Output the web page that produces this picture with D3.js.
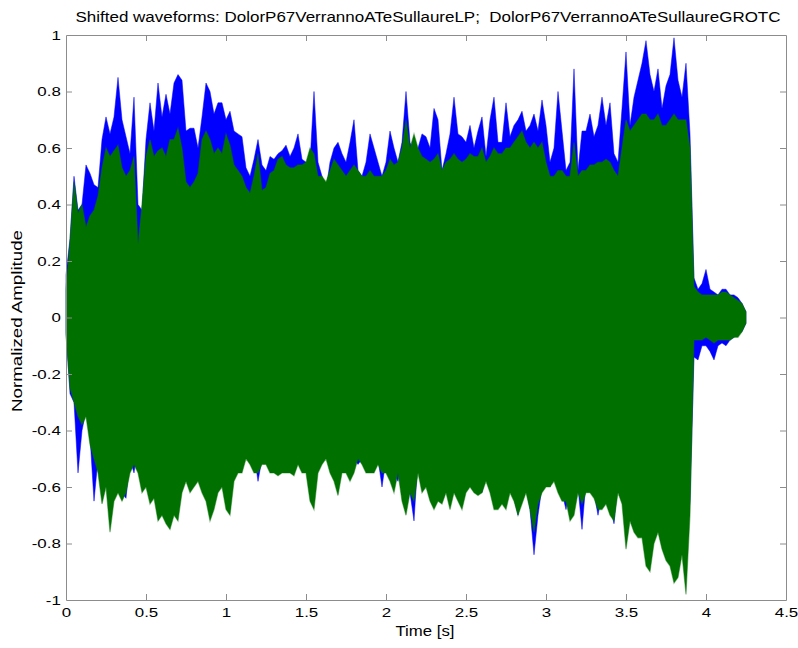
<!DOCTYPE html>
<html><head><meta charset="utf-8">
<script src="https://cdn.jsdelivr.net/npm/d3@7/dist/d3.min.js"></script>
<style>body{margin:0;background:#fff}text{font-family:"Liberation Sans",Arial,Helvetica,sans-serif;fill:#000}</style>
</head><body><svg id="c" width="798" height="648"></svg>
<script>
// sample spacing of the envelope readings (seconds)
const step = 0.025;
const titleText = "Shifted waveforms: DolorP67VerrannoATeSullaureLP;  DolorP67VerrannoATeSullaureGROTC";
const xLabel = "Time [s]";
const yLabel = "Normalized Amplitude";
const xTicks = [0, 0.5, 1, 1.5, 2, 2.5, 3, 3.5, 4, 4.5];
const yTicks = [-1, -0.8, -0.6, -0.4, -0.2, 0, 0.2, 0.4, 0.6, 0.8, 1];

// upper envelope, blue waveform (LP)
const blueHi = [
 0.15,0.28,0.50,0.38,0.40,0.54,0.51,0.47,0.46,0.63,
 0.71,0.65,0.71,0.85,0.70,0.64,0.58,0.78,0.40,0.38,
 0.63,0.76,0.66,0.83,0.71,0.79,0.72,0.83,0.86,0.84,
 0.66,0.67,0.67,0.60,0.71,0.83,0.80,0.72,0.76,0.76,
 0.70,0.73,0.66,0.65,0.64,0.53,0.50,0.56,0.63,0.54,
 0.52,0.57,0.56,0.58,0.59,0.61,0.57,0.60,0.65,0.56,
 0.55,0.55,0.80,0.55,0.50,0.45,0.55,0.60,0.62,0.58,
 0.55,0.62,0.70,0.52,0.50,0.55,0.65,0.60,0.55,0.50,
 0.55,0.66,0.60,0.55,0.62,0.80,0.62,0.58,0.60,0.65,
 0.64,0.60,0.74,0.70,0.52,0.58,0.65,0.78,0.65,0.64,
 0.62,0.68,0.60,0.66,0.71,0.57,0.70,0.78,0.62,0.62,
 0.76,0.64,0.68,0.70,0.73,0.66,0.68,0.72,0.66,0.77,
 0.68,0.55,0.60,0.80,0.66,0.52,0.55,0.88,0.52,0.66,
 0.66,0.72,0.64,0.68,0.78,0.68,0.76,0.58,0.55,0.74,
 0.94,0.68,0.78,0.84,0.90,0.98,0.86,0.80,0.88,0.74,
 0.82,0.86,0.99,0.84,0.78,0.90,0.65,0.14,0.10,0.12,
 0.17,0.10,0.09,0.08,0.10,0.10,0.08,0.08,0.07,0.05,
 0.02
];
// lower envelope, blue waveform (LP)
const blueLo = [
 -0.05,-0.27,-0.30,-0.55,-0.40,-0.33,-0.42,-0.65,-0.50,-0.58,
 -0.57,-0.62,-0.62,-0.58,-0.62,-0.64,-0.50,-0.55,-0.45,-0.55,
 -0.52,-0.55,-0.56,-0.60,-0.62,-0.62,-0.64,-0.65,-0.60,-0.58,
 -0.58,-0.52,-0.55,-0.52,-0.56,-0.60,-0.62,-0.60,-0.58,-0.55,
 -0.60,-0.68,-0.52,-0.52,-0.50,-0.48,-0.45,-0.48,-0.58,-0.50,
 -0.48,-0.50,-0.50,-0.52,-0.50,-0.50,-0.52,-0.52,-0.50,-0.50,
 -0.47,-0.52,-0.55,-0.52,-0.50,-0.48,-0.50,-0.52,-0.55,-0.52,
 -0.52,-0.52,-0.50,-0.52,-0.50,-0.52,-0.52,-0.50,-0.50,-0.60,
 -0.50,-0.55,-0.55,-0.58,-0.50,-0.65,-0.62,-0.72,-0.50,-0.58,
 -0.58,-0.58,-0.62,-0.62,-0.60,-0.60,-0.62,-0.58,-0.60,-0.62,
 -0.60,-0.58,-0.60,-0.62,-0.62,-0.55,-0.60,-0.62,-0.64,-0.62,
 -0.64,-0.60,-0.64,-0.70,-0.62,-0.60,-0.68,-0.84,-0.70,-0.60,
 -0.55,-0.60,-0.55,-0.58,-0.62,-0.68,-0.60,-0.62,-0.60,-0.75,
 -0.58,-0.58,-0.62,-0.70,-0.62,-0.64,-0.66,-0.73,-0.58,-0.60,
 -0.66,-0.72,-0.66,-0.72,-0.70,-0.70,-0.72,-0.70,-0.72,-0.72,
 -0.74,-0.76,-0.78,-0.78,-0.76,-0.78,-0.65,-0.14,-0.15,-0.10,
 -0.10,-0.12,-0.15,-0.10,-0.09,-0.10,-0.08,-0.07,-0.06,-0.05,
 -0.02
];
// upper envelope, green waveform (GROTC)
const greenHi = [
 0.10,0.27,0.48,0.37,0.40,0.32,0.36,0.38,0.43,0.53,
 0.60,0.57,0.59,0.61,0.53,0.50,0.52,0.57,0.26,0.40,
 0.57,0.63,0.57,0.59,0.60,0.57,0.63,0.63,0.67,0.60,
 0.48,0.46,0.48,0.51,0.63,0.66,0.63,0.58,0.60,0.58,
 0.65,0.61,0.54,0.52,0.50,0.46,0.44,0.50,0.58,0.45,
 0.46,0.51,0.52,0.56,0.57,0.54,0.53,0.53,0.54,0.54,
 0.55,0.60,0.58,0.50,0.50,0.48,0.52,0.56,0.54,0.52,
 0.50,0.52,0.54,0.52,0.50,0.50,0.52,0.50,0.50,0.50,
 0.52,0.56,0.54,0.55,0.60,0.70,0.60,0.65,0.60,0.57,
 0.56,0.55,0.56,0.58,0.52,0.55,0.56,0.58,0.56,0.55,
 0.56,0.58,0.57,0.57,0.60,0.55,0.57,0.60,0.58,0.58,
 0.60,0.60,0.62,0.64,0.66,0.62,0.60,0.62,0.60,0.62,
 0.55,0.50,0.50,0.52,0.52,0.50,0.50,0.62,0.50,0.52,
 0.52,0.54,0.54,0.55,0.55,0.56,0.55,0.52,0.50,0.60,
 0.70,0.66,0.68,0.70,0.72,0.72,0.70,0.70,0.72,0.68,
 0.68,0.70,0.72,0.70,0.70,0.70,0.60,0.11,0.09,0.08,
 0.08,0.08,0.08,0.08,0.09,0.09,0.08,0.07,0.06,0.05,
 0.02
];
// lower envelope, green waveform (GROTC)
const greenLo = [
 -0.06,-0.25,-0.30,-0.35,-0.38,-0.35,-0.45,-0.50,-0.55,-0.66,
 -0.60,-0.76,-0.65,-0.62,-0.65,-0.62,-0.55,-0.52,-0.55,-0.62,
 -0.60,-0.66,-0.64,-0.72,-0.70,-0.73,-0.75,-0.70,-0.72,-0.62,
 -0.58,-0.62,-0.60,-0.58,-0.62,-0.65,-0.72,-0.68,-0.62,-0.60,
 -0.68,-0.70,-0.58,-0.55,-0.55,-0.50,-0.52,-0.55,-0.55,-0.52,
 -0.52,-0.55,-0.55,-0.56,-0.55,-0.55,-0.55,-0.56,-0.52,-0.55,
 -0.55,-0.65,-0.68,-0.55,-0.52,-0.50,-0.55,-0.58,-0.63,-0.55,
 -0.55,-0.58,-0.55,-0.50,-0.52,-0.55,-0.55,-0.55,-0.52,-0.55,
 -0.55,-0.58,-0.62,-0.55,-0.65,-0.70,-0.62,-0.65,-0.55,-0.62,
 -0.60,-0.65,-0.68,-0.65,-0.66,-0.62,-0.68,-0.62,-0.65,-0.68,
 -0.62,-0.60,-0.62,-0.63,-0.62,-0.58,-0.62,-0.68,-0.68,-0.66,
 -0.68,-0.62,-0.65,-0.70,-0.66,-0.62,-0.68,-0.76,-0.66,-0.62,
 -0.60,-0.60,-0.58,-0.62,-0.65,-0.65,-0.72,-0.70,-0.62,-0.66,
 -0.62,-0.62,-0.64,-0.68,-0.68,-0.66,-0.70,-0.72,-0.62,-0.66,
 -0.82,-0.72,-0.76,-0.78,-0.78,-0.88,-0.90,-0.80,-0.76,-0.82,
 -0.86,-0.88,-0.94,-0.92,-0.84,-0.98,-0.70,-0.08,-0.08,-0.08,
 -0.07,-0.08,-0.09,-0.08,-0.08,-0.08,-0.08,-0.07,-0.07,-0.05,
 -0.02
];

const svg = d3.select("#c");
const x = d3.scaleLinear().domain([0, 4.5]).range([66, 786]);
const y = d3.scaleLinear().domain([-1, 1]).range([600, 35]);

const toRows = (hi, lo) => hi.map((v, i) => ({ t: i * step, hi: v, lo: lo[i] }));
const area = d3.area().x(d => x(d.t)).y0(d => y(d.lo)).y1(d => y(d.hi));

svg.append("rect").attr("x", 66).attr("y", 35).attr("width", 720).attr("height", 565).attr("fill", "#fff");

const plot = svg.append("g");
plot.append("path").datum(toRows(blueHi, blueLo)).attr("d", area)
  .attr("fill", "#0000ff").attr("stroke", "#0000ff").attr("stroke-opacity", 0.5).attr("stroke-width", 1);
plot.append("path").datum(toRows(greenHi, greenLo)).attr("d", area)
  .attr("fill", "#007000").attr("stroke", "#007000").attr("stroke-opacity", 0.45).attr("stroke-width", 1.2);

// axes (MATLAB style: box with inward ticks on all sides)
const axCol = "#8c8c8c";
const tl = 6;
const fmt = d => String(d);
const gB = svg.append("g").attr("transform", "translate(0,600)")
  .call(d3.axisBottom(x).tickValues(xTicks).tickFormat(fmt).tickSizeInner(-tl).tickSizeOuter(0).tickPadding(8));
const gT = svg.append("g").attr("transform", "translate(0,35)")
  .call(d3.axisTop(x).tickValues(xTicks).tickFormat("").tickSizeInner(-tl).tickSizeOuter(0));
const gL = svg.append("g").attr("transform", "translate(66,0)")
  .call(d3.axisLeft(y).tickValues(yTicks).tickFormat(fmt).tickSizeInner(-tl).tickSizeOuter(0).tickPadding(4));
const gR = svg.append("g").attr("transform", "translate(786,0)")
  .call(d3.axisRight(y).tickValues(yTicks).tickFormat("").tickSizeInner(-tl).tickSizeOuter(0));
[gB, gT, gL, gR].forEach(g => {
  g.selectAll(".domain").attr("stroke", axCol);
  g.selectAll(".tick line").attr("stroke", axCol);
  g.selectAll("text").attr("font-size", 13).attr("font-family", "'Liberation Sans',Arial,sans-serif")
    .attr("fill", "#000").attr("transform", "scale(1.3,1)");
});
gB.selectAll(".tick").filter(d => d === 0 || d === 4.5).select("line").remove();
gT.selectAll(".tick").filter(d => d === 0 || d === 4.5).select("line").remove();
gL.selectAll(".tick").filter(d => d === -1 || d === 1).select("line").remove();
gR.selectAll(".tick").filter(d => d === -1 || d === 1).select("line").remove();

// title and labels
svg.append("text").attr("x", 428).attr("y", 22).attr("text-anchor", "middle")
  .style("white-space", "pre").attr("xml:space", "preserve")
  .attr("font-size", 14).attr("textLength", 705).attr("lengthAdjust", "spacingAndGlyphs").text(titleText);
svg.append("text").attr("x", 425).attr("y", 636).attr("text-anchor", "middle")
  .attr("font-size", 14).attr("textLength", 59).attr("lengthAdjust", "spacingAndGlyphs").text(xLabel);
svg.append("text").attr("transform", "translate(22,321) rotate(-90)").attr("text-anchor", "middle")
  .attr("font-size", 14).attr("textLength", 182).attr("lengthAdjust", "spacingAndGlyphs").text(yLabel);
</script>
</body></html>
